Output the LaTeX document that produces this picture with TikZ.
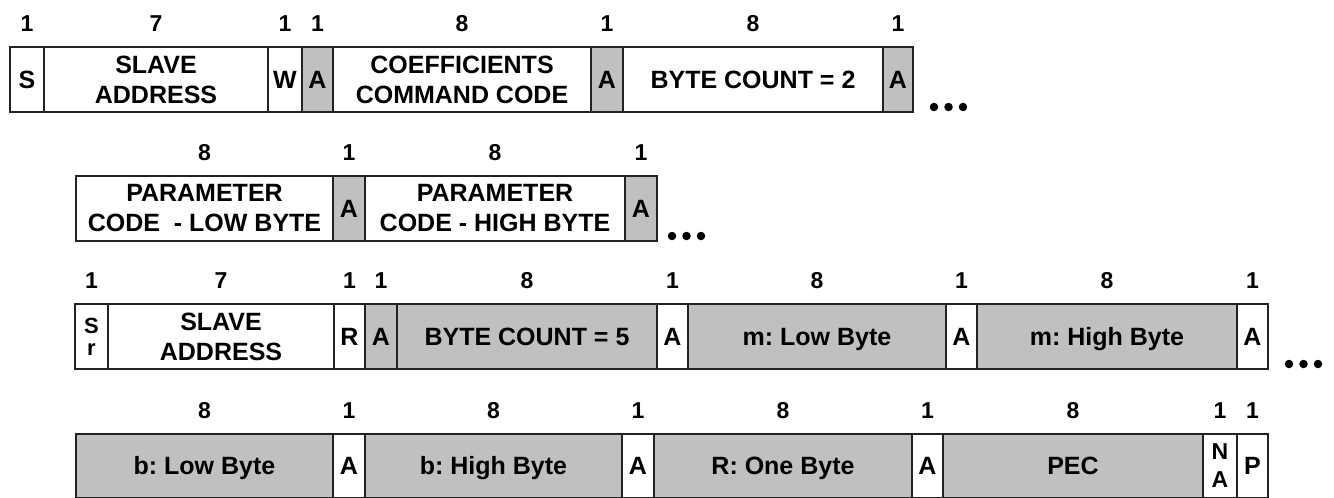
\documentclass[tikz,border=0pt]{standalone}
\usepackage{fontspec}
\setmainfont{Liberation Sans}
\frenchspacing
\definecolor{fg}{HTML}{C0C0C0}
\definecolor{ln}{HTML}{222222}
\newcommand\rowh{65}
\newcommand\fieldbox[7]{% name, style, x1, x2, top, text, number
  \pgfmathsetmacro\fw{#4-#3}%
  \node[#2, minimum width=\fw pt, minimum height=\rowh pt] (#1) at (#3,#5) {#6};
  \node[num] (#1n) at ([yshift=23pt]#1.north) {#7};
}
\tikzset{
  fld/.style={draw=ln, line width=1.3pt, rectangle, inner sep=0pt, outer sep=0pt,
    anchor=north west, font=\bfseries\fontsize{25}{30}\selectfont, align=center},
  wht/.style={fld, fill=white},
  gry/.style={fld, fill=fg},
  one/.style={text height=18pt, text depth=0pt},
  num/.style={font=\bfseries\fontsize{23}{27}\selectfont, inner sep=0pt},
  bigdot/.style={circle, fill=black, inner sep=0pt, minimum size=8.5pt},
  stack/.style={font=\bfseries\fontsize{22}{22}\selectfont},
  stackb/.style={font=\bfseries\fontsize{23}{28}\selectfont}
}
\begin{document}
\begin{tikzpicture}[x=1pt,y=-1pt]
\useasboundingbox (0,0) rectangle (1334,498);
% Row 1
\fieldbox{r1s}{wht, one}{10}{44}{47}{S}{1}
\fieldbox{r1addr}{wht}{44}{268}{47}{SLAVE\\ADDRESS}{7}
\fieldbox{r1w}{wht, one}{268}{302}{47}{W}{1}
\fieldbox{r1a1}{gry, one}{302}{333}{47}{A}{1}
\fieldbox{r1cmd}{wht}{333}{591}{47}{COEFFICIENTS\\COMMAND CODE}{8}
\fieldbox{r1a2}{gry, one}{591}{623}{47}{A}{1}
\fieldbox{r1bc}{wht, one}{623}{883}{47}{BYTE COUNT = 2}{8}
\fieldbox{r1a3}{gry, one}{883}{913}{47}{A}{1}
\node[bigdot] (d1a) at (934,107) {};
\node[bigdot] (d1b) at (948.5,107) {};
\node[bigdot] (d1c) at (963,107) {};
% Row 2
\fieldbox{r2lo}{wht}{76}{333}{176}{PARAMETER\\CODE\ \ - LOW BYTE}{8}
\fieldbox{r2a1}{gry, one}{333}{365}{176}{A}{1}
\fieldbox{r2hi}{wht}{365}{625}{176}{PARAMETER\\CODE - HIGH BYTE}{8}
\fieldbox{r2a2}{gry, one}{625}{657}{176}{A}{1}
\node[bigdot] (d2a) at (672,236) {};
\node[bigdot] (d2b) at (686.5,236) {};
\node[bigdot] (d2c) at (701,236) {};
% Row 3
\fieldbox{r3sr}{wht, stack}{75}{108}{304}{S\\r}{1}
\fieldbox{r3addr}{wht}{108}{334}{304}{SLAVE\\ADDRESS}{7}
\fieldbox{r3r}{wht, one}{334}{365}{304}{R}{1}
\fieldbox{r3a1}{gry, one}{365}{397}{304}{A}{1}
\fieldbox{r3bc}{gry, one}{397}{657}{304}{BYTE COUNT = 5}{8}
\fieldbox{r3a2}{wht, one}{657}{688}{304}{A}{1}
\fieldbox{r3mlo}{gry, one}{688}{946}{304}{m: Low Byte}{8}
\fieldbox{r3a3}{wht, one}{946}{977}{304}{A}{1}
\fieldbox{r3mhi}{gry, one}{977}{1237}{304}{m: High Byte}{8}
\fieldbox{r3a4}{wht, one}{1237}{1268}{304}{A}{1}
\node[bigdot] (d3a) at (1289,364) {};
\node[bigdot] (d3b) at (1303.5,364) {};
\node[bigdot] (d3c) at (1318,364) {};
% Row 4
\renewcommand\rowh{63.5}
\fieldbox{r4blo}{gry, one}{76}{333}{434}{b: Low Byte}{8}
\fieldbox{r4a1}{wht, one}{333}{365}{434}{A}{1}
\fieldbox{r4bhi}{gry, one}{365}{622}{434}{b: High Byte}{8}
\fieldbox{r4a2}{wht, one}{622}{654}{434}{A}{1}
\fieldbox{r4r}{gry, one}{654}{912}{434}{R: One Byte}{8}
\fieldbox{r4a3}{wht, one}{912}{943}{434}{A}{1}
\fieldbox{r4pec}{gry, one}{943}{1203}{434}{PEC}{8}
\fieldbox{r4na}{wht, stackb}{1203}{1237}{434}{N\\A}{1}
\fieldbox{r4p}{wht, one}{1237}{1268}{434}{P}{1}
\end{tikzpicture}
\end{document}
